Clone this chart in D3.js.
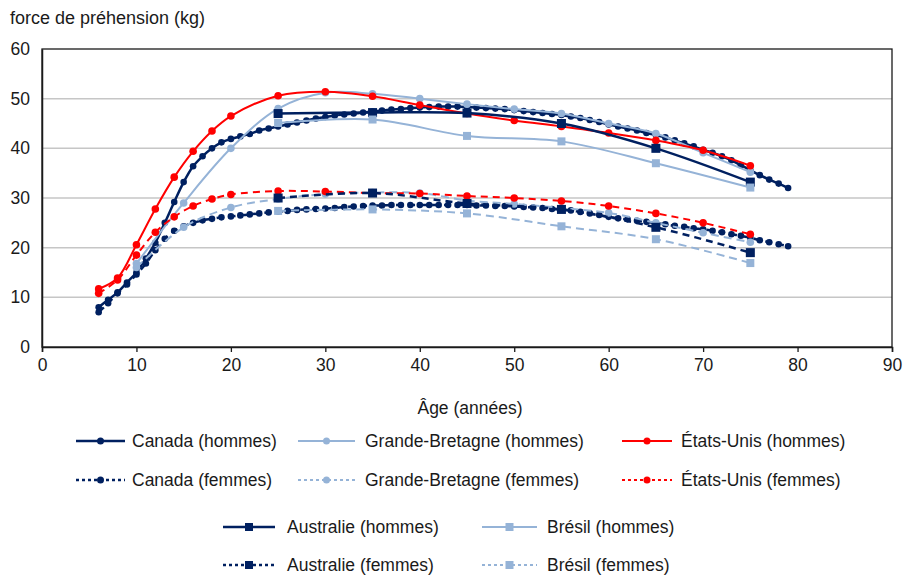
<!DOCTYPE html>
<html>
<head>
<meta charset="utf-8" />
<title>force de préhension</title>
<script src="https://cdn.jsdelivr.net/npm/d3@7"></script>
<style>
  html, body { margin: 0; background: #fff; }
  text { font-family: "Liberation Sans", Arial, sans-serif; fill: #1a1a1a; }
</style>
</head>
<body>
<div id="container"></div>
<script>
// data
var canadaAges = [6, 7, 8, 9, 10, 11, 12, 13, 14, 15, 16, 17, 18, 19, 20, 21, 22, 23, 24, 25,
  26, 27, 28, 29, 30, 31, 32, 33, 34, 35, 36, 37, 38, 39, 40, 41, 42, 43, 44, 45,
  46, 47, 48, 49, 50, 51, 52, 53, 54, 55, 56, 57, 58, 59, 60, 61, 62, 63, 64, 65,
  66, 67, 68, 69, 70, 71, 72, 73, 74, 75, 76, 77, 78, 79];
var canadaMen = [8.0, 9.5, 11.0, 13.0, 15.0, 17.8, 21.0, 25.0, 29.2, 33.2, 36.4, 38.4, 40.0, 41.2, 41.9, 42.4, 42.9, 43.6, 44.0, 44.4,
  44.8, 45.2, 45.6, 46.0, 46.3, 46.6, 46.8, 47.0, 47.2, 47.4, 47.6, 47.8, 47.9, 48.1, 48.2, 48.3, 48.4, 48.4, 48.4, 48.3,
  48.2, 48.1, 48.0, 47.9, 47.7, 47.5, 47.3, 47.1, 46.9, 46.7, 46.4, 46.1, 45.7, 45.3, 44.8, 44.4, 44.0, 43.6, 43.1, 42.7,
  42.2, 41.6, 41.0, 40.4, 39.7, 39.1, 38.4, 37.6, 36.6, 35.6, 34.6, 33.7, 32.9, 32.0];
var canadaWomen = [7.0, 8.8, 10.8, 12.6, 14.6, 16.8, 19.5, 21.8, 23.4, 24.3, 25.0, 25.5, 25.8, 26.1, 26.3, 26.5, 26.7, 26.9, 27.1, 27.3,
  27.4, 27.6, 27.7, 27.8, 27.9, 28.0, 28.2, 28.3, 28.4, 28.5, 28.5, 28.6, 28.6, 28.6, 28.6, 28.6, 28.6, 28.6, 28.6, 28.6,
  28.5, 28.5, 28.4, 28.4, 28.3, 28.2, 28.1, 28.0, 27.8, 27.7, 27.5, 27.2, 26.9, 26.6, 26.2, 25.9, 25.7, 25.4, 25.2, 24.9,
  24.7, 24.4, 24.2, 23.9, 23.7, 23.4, 23.1, 22.7, 22.4, 22.0, 21.5, 21.1, 20.7, 20.3];

var gbAges = [10, 15, 20, 25, 30, 35, 40, 45, 50, 55, 60, 65, 70, 75];
var gbMen = [16.8, 29.0, 40.0, 48.0, 51.2, 51.0, 50.0, 48.9, 47.9, 47.0, 45.0, 43.0, 39.1, 35.2];
var gbWomen = [16.0, 24.1, 28.1, 29.8, 30.8, 31.1, 31.0, 29.5, 28.8, 28.0, 27.0, 25.0, 23.0, 21.1];

var usAges = [6, 8, 10, 12, 14, 16, 18, 20, 25, 30, 35, 40, 45, 50, 55, 60, 65, 70, 75];
var usMen = [11.7, 13.9, 20.6, 27.8, 34.2, 39.4, 43.5, 46.5, 50.6, 51.4, 50.5, 48.7, 47.0, 45.6, 44.4, 43.1, 41.6, 39.6, 36.5];
var usWomen = [10.8, 13.5, 18.5, 23.1, 26.2, 28.4, 29.8, 30.7, 31.4, 31.3, 31.0, 30.9, 30.4, 30.0, 29.4, 28.4, 26.9, 25.0, 22.7];

var ausBrAges = [25, 35, 45, 55, 65, 75];
var ausMen = [47.0, 47.2, 47.1, 45.0, 40.0, 33.2];
var ausWomen = [30.0, 31.0, 28.9, 27.7, 24.1, 19.0];
var brMen = [45.1, 45.8, 42.5, 41.4, 37.0, 32.1];
var brWomen = [27.4, 27.7, 26.9, 24.3, 21.7, 16.9];

var xTicks = [0, 10, 20, 30, 40, 50, 60, 70, 80, 90];
var yTicks = [0, 10, 20, 30, 40, 50, 60];

var navy = "#002060", light = "#95b3d7", red = "#ff0000";

// drawing order and styles
var series = [
  { name: "Canada (hommes)", ages: canadaAges, vals: canadaMen, color: navy, dash: null, w: 2.5, mark: "c", r: 3.3, leg: [0, 0] },
  { name: "Grande-Bretagne (hommes)", ages: gbAges, vals: gbMen, color: light, dash: null, w: 2, mark: "c", r: 3.8, leg: [0, 1] },
  { name: "États-Unis (hommes)", ages: usAges, vals: usMen, color: red, dash: null, w: 2, mark: "c", r: 3.8, leg: [0, 2] },
  { name: "Canada (femmes)", ages: canadaAges, vals: canadaWomen, color: navy, dash: "7,5", w: 2.5, mark: "c", r: 3.3, leg: [1, 0] },
  { name: "Grande-Bretagne (femmes)", ages: gbAges, vals: gbWomen, color: light, dash: "8,5", w: 2, mark: "c", r: 3.8, leg: [1, 1] },
  { name: "États-Unis (femmes)", ages: usAges, vals: usWomen, color: red, dash: "7,5", w: 2, mark: "c", r: 3.8, leg: [1, 2] },
  { name: "Australie (hommes)", ages: ausBrAges, vals: ausMen, color: navy, dash: null, w: 2.5, mark: "s", r: 9, leg: [2, 0] },
  { name: "Brésil (hommes)", ages: ausBrAges, vals: brMen, color: light, dash: null, w: 2, mark: "s", r: 8, leg: [2, 1] },
  { name: "Australie (femmes)", ages: ausBrAges, vals: ausWomen, color: navy, dash: "7,5", w: 2.5, mark: "s", r: 9, leg: [3, 0] },
  { name: "Brésil (femmes)", ages: ausBrAges, vals: brWomen, color: light, dash: "8,5", w: 2, mark: "s", r: 8, leg: [3, 1] }
];

var width = 904, height = 575;
var plotLeft = 42, plotRight = 892, plotTop = 49, plotBottom = 347;

var svg = d3.select("#container").append("svg")
  .attr("width", width).attr("height", height);

var x = d3.scaleLinear().domain([0, 90]).range([plotLeft, plotRight]);
var y = d3.scaleLinear().domain([0, 60]).range([plotBottom, plotTop]);

// gridlines
svg.append("g").selectAll("line")
  .data(yTicks.filter(function(d) { return d > 0 && d < 60; }))
  .enter().append("line")
  .attr("x1", plotLeft).attr("x2", plotRight)
  .attr("y1", function(d) { return y(d); }).attr("y2", function(d) { return y(d); })
  .attr("stroke", "#c6c6c6").attr("stroke-width", 1.5);

// frame
svg.append("rect")
  .attr("x", plotLeft).attr("y", plotTop)
  .attr("width", plotRight - plotLeft).attr("height", plotBottom - plotTop)
  .attr("fill", "none").attr("stroke", "#1a1a1a").attr("stroke-width", 1.3);

// axes
var xAxis = svg.append("g").attr("transform", "translate(0," + plotBottom + ")")
  .call(d3.axisBottom(x).tickValues(xTicks).tickSize(5).tickPadding(7));
var yAxis = svg.append("g").attr("transform", "translate(" + plotLeft + ",0)")
  .call(d3.axisLeft(y).tickValues(yTicks).tickSize(0).tickPadding(12));
[xAxis, yAxis].forEach(function(a) {
  a.select(".domain").attr("stroke", "#1a1a1a").attr("stroke-width", 1.5);
  a.selectAll(".tick line").attr("stroke", "#1a1a1a").attr("stroke-width", 1.3);
  a.selectAll(".tick text").attr("font-size", 17.5).attr("fill", "#1a1a1a")
    .style("font-family", "'Liberation Sans', Arial, sans-serif");
});

svg.append("text").attr("x", 10).attr("y", 24).attr("font-size", 18)
  .text("force de préhension (kg)");
svg.append("text").attr("x", 470).attr("y", 414).attr("font-size", 17.5)
  .attr("text-anchor", "middle").text("Âge (années)");

var line = d3.line()
  .x(function(d) { return x(d[0]); })
  .y(function(d) { return y(d[1]); })
  .curve(d3.curveCatmullRom.alpha(0.5));

function drawMarker(g, mark, r, color) {
  if (mark == "c") {
    return g.append("circle").attr("r", r).attr("fill", color);
  }
  return g.append("rect").attr("x", -r / 2).attr("y", -r / 2)
    .attr("width", r).attr("height", r).attr("fill", color);
}

var plot = svg.append("g");
series.forEach(function(s) {
  var pts = s.ages.map(function(a, i) { return [a, s.vals[i]]; });
  plot.append("path").datum(pts)
    .attr("d", line)
    .attr("fill", "none")
    .attr("stroke", s.color)
    .attr("stroke-width", s.w)
    .attr("stroke-dasharray", s.dash);
  pts.forEach(function(p) {
    var g = plot.append("g").attr("transform", "translate(" + x(p[0]) + "," + y(p[1]) + ")");
    drawMarker(g, s.mark, s.r, s.color);
  });
});

// legend
var rowY = [441, 480, 527, 565];
var colsTop = [[76, 125, 132], [298, 355, 365], [622, 672, 681]];
var colsBottom = [[223, 275, 287], [482, 537, 547]];

series.forEach(function(s) {
  var row = s.leg[0], col = s.leg[1];
  var c = row < 2 ? colsTop[col] : colsBottom[col];
  var yy = rowY[row];
  var g = svg.append("g");
  g.append("line").attr("x1", c[0]).attr("x2", c[1]).attr("y1", yy).attr("y2", yy)
    .attr("stroke", s.color).attr("stroke-width", s.w)
    .attr("stroke-dasharray", s.dash ? "3,3" : null);
  var m = g.append("g").attr("transform", "translate(" + (c[0] + c[1]) / 2 + "," + yy + ")");
  drawMarker(m, s.mark, s.mark == "c" ? 3.5 : 8, s.color);
  g.append("text").attr("x", c[2]).attr("y", yy).attr("dy", "0.35em")
    .attr("font-size", 17.5).text(s.name);
});
</script>
</body>
</html>
